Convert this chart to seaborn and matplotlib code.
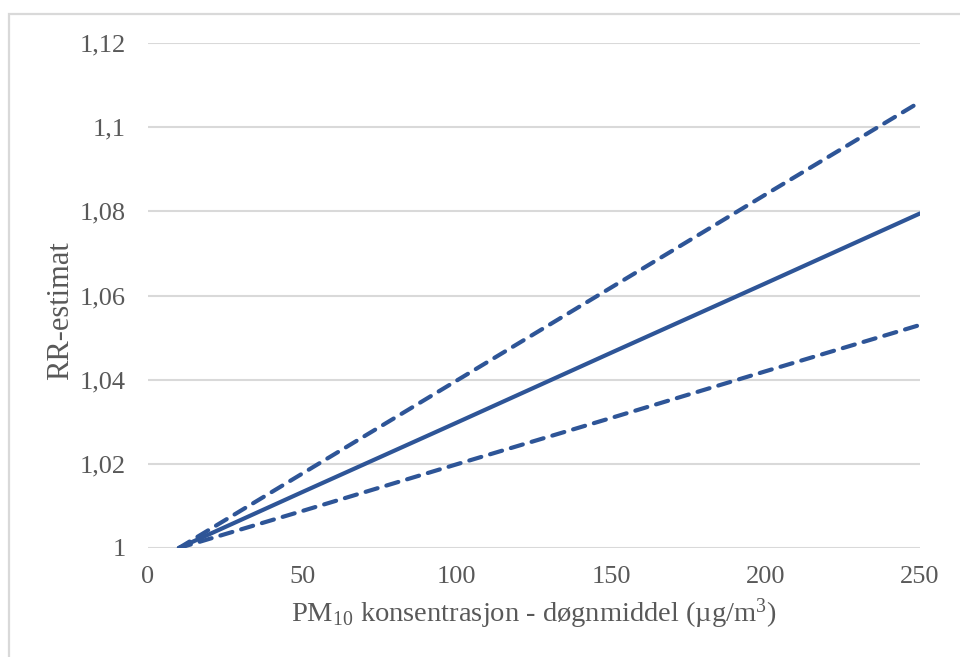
import matplotlib
matplotlib.use("Agg")
import matplotlib.pyplot as plt
from matplotlib.patches import Rectangle
import seaborn as sns
import pandas as pd

# Data
pm10 = [10, 50, 100, 150, 200, 250]
rr_estimat = [1.000, 1.0133, 1.0298, 1.0464, 1.0629, 1.0795]
rr_ovre = [1.000, 1.0177, 1.0398, 1.0619, 1.0840, 1.106]
rr_nedre = [1.000, 1.0088, 1.0199, 1.0309, 1.0420, 1.053]
x_ticks = [0, 50, 100, 150, 200, 250]
y_ticks = [1.00, 1.02, 1.04, 1.06, 1.08, 1.10, 1.12]
y_ticklabels = ["1", "1,02", "1,04", "1,06", "1,08", "1,1", "1,12"]

sns.set_theme(style="white")
plt.rcParams["font.family"] = ["Liberation Serif", "DejaVu Serif"]
plt.rcParams["mathtext.fontset"] = "custom"
plt.rcParams["mathtext.rm"] = "Liberation Serif"
plt.rcParams["mathtext.it"] = "Liberation Serif:italic"

TXT = "#595959"
LINE = "#2E5597"
GRID = "#D9D9D9"

fig = plt.figure(figsize=(9.6, 6.57), dpi=100)
ax = fig.add_axes([148 / 960, 1 - 548 / 657, 772 / 960, 505 / 657])

df = pd.DataFrame({"x": pm10, "mid": rr_estimat, "hi": rr_ovre, "lo": rr_nedre})

sns.lineplot(data=df, x="x", y="mid", ax=ax, color=LINE, linewidth=3.0,
             solid_capstyle="round")
sns.lineplot(data=df, x="x", y="hi", ax=ax, color=LINE, linewidth=3.0,
             dashes=False)
sns.lineplot(data=df, x="x", y="lo", ax=ax, color=LINE, linewidth=3.0,
             dashes=False)
for ln in ax.lines[1:]:
    ln.set_dashes((3.0, 2.2))
    ln.set_dash_capstyle("round")

ax.set_xlim(0, 250)
ax.set_ylim(1.0, 1.12)
ax.set_xticks(x_ticks)
ax.set_xticklabels([str(v) for v in x_ticks])
ax.set_yticks(y_ticks)
ax.set_yticklabels(y_ticklabels)
ax.tick_params(axis="both", length=0, labelsize=19, labelcolor=TXT)
ax.tick_params(axis="x", pad=13)
ax.tick_params(axis="y", pad=16)
ax.yaxis.grid(True, color=GRID, linewidth=1.5)
ax.xaxis.grid(False)
ax.set_axisbelow(True)
for s in ax.spines.values():
    s.set_visible(False)
ax.margins(0)

ax.set_xlabel(r"PM$_{10}$ konsentrasjon - døgnmiddel (µg/m$^{3}$)",
              fontsize=20.5, color=TXT, labelpad=6)
ax.set_ylabel("RR-estimat", fontsize=22, color=TXT)
ax.yaxis.set_label_coords(-0.095, 0.47)

fig.patches.append(Rectangle((9 / 960, -0.1), 1.2, (657 - 14) / 657 + 0.1,
                             transform=fig.transFigure, fill=False,
                             edgecolor=GRID, linewidth=1.6, zorder=0))

fig.savefig("out.png", dpi=100)
